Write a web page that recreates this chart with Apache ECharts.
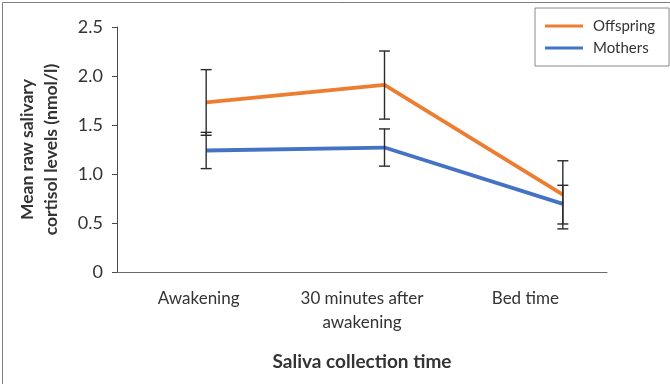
<!DOCTYPE html>
<html>
<head>
<meta charset="utf-8">
<script src="https://cdn.jsdelivr.net/npm/echarts@6/dist/echarts.min.js"></script>
<style>html,body{margin:0;padding:0;background:#fff}#c{width:670px;height:384px}</style>
</head>
<body>
<div id="c"></div>
<script>
var categories = ['Awakening', '30 minutes after\nawakening', 'Bed time'];
var offspring = [1.73, 1.91, 0.79];
var offspringLow = [1.395, 1.56, 0.44];
var offspringHigh = [2.065, 2.255, 1.135];
var mothers = [1.24, 1.27, 0.695];
var mothersLow = [1.055, 1.08, 0.49];
var mothersHigh = [1.425, 1.46, 0.885];
var yTicks = [0, 0.5, 1.0, 1.5, 2.0, 2.5];

var FONT = 'Lato, "Liberation Sans", sans-serif';
var TXT = '#333333';

function errData(low, high) {
  return categories.map(function (c, i) { return [i, low[i], high[i]]; });
}
function renderErr(params, api) {
  var x = api.value(0);
  var lo = api.coord([x, api.value(1)]);
  var hi = api.coord([x, api.value(2)]);
  var hw = 5.5;
  var st = { stroke: '#2b2b2b', lineWidth: 1.4 };
  return {
    type: 'group',
    children: [
      { type: 'line', shape: { x1: lo[0], y1: lo[1], x2: hi[0], y2: hi[1] }, style: st },
      { type: 'line', shape: { x1: lo[0] - hw, y1: lo[1], x2: lo[0] + hw, y2: lo[1] }, style: st },
      { type: 'line', shape: { x1: hi[0] - hw, y1: hi[1], x2: hi[0] + hw, y2: hi[1] }, style: st }
    ]
  };
}

var chart = echarts.init(document.getElementById('c'));
chart.setOption({
  animation: false,
  textStyle: { fontFamily: FONT },
  graphic: [{
    type: 'rect', left: 0, top: 0, silent: true,
    shape: { x: 0.5, y: 0.5, width: 669, height: 383 },
    style: { fill: 'none', stroke: '#7f7f7f', lineWidth: 1 }
  }],
  legend: {
    left: 535, top: 8, orient: 'vertical',
    borderColor: '#8a8a8a', borderWidth: 1,
    padding: [10, 14, 10, 10], itemGap: 6,
    itemWidth: 38, itemHeight: 3, icon: 'rect',
    textStyle: { fontFamily: FONT, fontSize: 15, color: TXT, padding: [0, 0, 0, 5], lineHeight: 16 },
    data: ['Offspring', 'Mothers']
  },
  grid: [
    { left: 117, right: 63, top: 27, bottom: 112 },
    { left: 117, width: 535, top: 27, bottom: 112 }
  ],
  xAxis: [{
    type: 'category', gridIndex: 0, data: categories, boundaryGap: true,
    axisLine: { lineStyle: { color: '#6b6b6b', width: 1 } },
    axisTick: { length: 6, lineStyle: { color: '#6b6b6b' } },
    axisLabel: { color: TXT, fontSize: 17, fontFamily: FONT, margin: 15, lineHeight: 24 },
    name: 'Saliva collection time', nameLocation: 'middle', nameGap: 80,
    nameTextStyle: { color: TXT, fontSize: 19, fontWeight: 'bold', fontFamily: FONT }
  }, {
    type: 'category', gridIndex: 1, data: categories, boundaryGap: true, show: false
  }],
  yAxis: [{
    type: 'value', gridIndex: 0, min: 0, max: 2.5, interval: 0.5,
    axisLine: { show: true, lineStyle: { color: '#4a4a4a', width: 1 } },
    axisTick: { show: true, length: 5, lineStyle: { color: '#4a4a4a' } },
    splitLine: { show: false },
    axisLabel: {
      color: TXT, fontSize: 18, fontFamily: FONT, margin: 14,
      formatter: function (v) { return v === 0 ? '0' : v.toFixed(1); }
    },
    name: 'Mean raw salivary\ncortisol levels (nmol/l)', nameLocation: 'middle', nameGap: 54,
    nameTextStyle: { color: TXT, fontSize: 17.5, fontWeight: 'bold', fontFamily: FONT, lineHeight: 24 }
  }, {
    type: 'value', gridIndex: 1, min: 0, max: 2.5, interval: 0.5, show: false
  }],
  series: [
    {
      name: 'Offspring', type: 'line', xAxisIndex: 1, yAxisIndex: 1, data: offspring,
      symbol: 'none', lineStyle: { color: '#ED7D31', width: 3.8 }, itemStyle: { color: '#ED7D31' }, z: 3
    },
    {
      name: 'Mothers', type: 'line', xAxisIndex: 1, yAxisIndex: 1, data: mothers,
      symbol: 'none', lineStyle: { color: '#4472C4', width: 3.8 }, itemStyle: { color: '#4472C4' }, z: 3
    },
    { type: 'custom', xAxisIndex: 1, yAxisIndex: 1, data: errData(offspringLow, offspringHigh), renderItem: renderErr, z: 4 },
    { type: 'custom', xAxisIndex: 1, yAxisIndex: 1, data: errData(mothersLow, mothersHigh), renderItem: renderErr, z: 4 }
  ]
});
</script>
</body>
</html>
